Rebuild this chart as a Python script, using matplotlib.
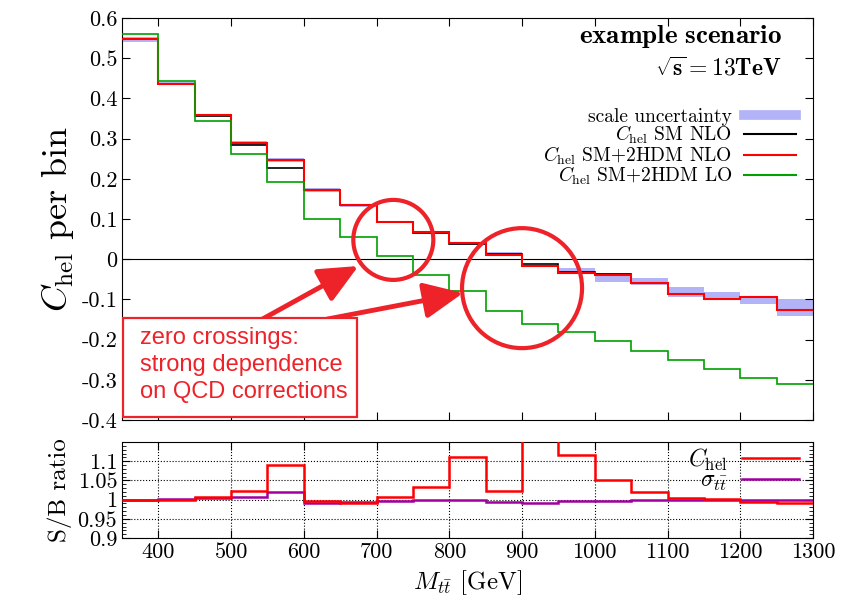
import numpy as np
import matplotlib
matplotlib.use("Agg")
from matplotlib import pyplot as plt
from matplotlib.lines import Line2D
from matplotlib.patches import Ellipse, Rectangle
from matplotlib.ticker import AutoMinorLocator

plt.rcParams['font.family'] = 'serif'
plt.rcParams['font.serif'] = ['cmr10']
plt.rcParams['mathtext.fontset'] = 'cm'
plt.rcParams['axes.formatter.use_mathtext'] = True

# bin edges in M_tt [GeV]
edges = np.arange(350, 1301, 50)

# C_hel per bin
sm_nlo = [0.548, 0.437, 0.355, 0.283, 0.227, 0.171, 0.134, 0.093, 0.066, 0.038,
          0.013, -0.012, -0.033, -0.038, -0.059, -0.087, -0.100, -0.094, -0.127]
bsm_nlo = [0.548, 0.437, 0.359, 0.289, 0.247, 0.171, 0.134, 0.093, 0.068, 0.040,
           0.0115, -0.018, -0.035, -0.039, -0.059, -0.087, -0.100, -0.094, -0.127]
bsm_lo = [0.560, 0.443, 0.344, 0.262, 0.193, 0.100, 0.055, 0.008, -0.039, -0.080,
          -0.129, -0.162, -0.180, -0.204, -0.229, -0.251, -0.273, -0.295, -0.311]
band_lo = [0.541, 0.433, 0.355, 0.284, 0.243, 0.168, 0.131, 0.090, 0.064, 0.035,
           0.010, -0.020, -0.038, -0.057, -0.064, -0.094, -0.100, -0.112, -0.141]
band_hi = [0.552, 0.440, 0.362, 0.294, 0.251, 0.177, 0.137, 0.096, 0.070, 0.042,
           0.017, -0.014, -0.022, -0.034, -0.047, -0.069, -0.082, -0.094, -0.100]

# S/B ratios
ratio_chel = [1.000, 1.000, 1.007, 1.022, 1.089, 0.996, 0.990, 1.006, 1.034, 1.110,
              1.022, 1.300, 1.116, 1.050, 1.019, 1.003, 1.001, 0.995, 0.991]
ratio_sigma = [1.000, 1.002, 1.003, 1.007, 1.019, 0.990, 0.994, 0.997, 0.998, 0.998,
               0.993, 0.990, 0.996, 0.997, 0.998, 0.999, 0.999, 1.000, 1.000]

main_yticks = [-0.4, -0.3, -0.2, -0.1, 0, 0.1, 0.2, 0.3, 0.4, 0.5, 0.6]
ratio_yticks = [0.9, 0.95, 1, 1.05, 1.1]
xticks = [400, 500, 600, 700, 800, 900, 1000, 1100, 1200, 1300]

red = '#ff0000'
ann_red = '#ee2229'
band_col = '#b3b3f8'
green = '#00a000'
purple = '#a000a0'

fig = plt.figure(figsize=(8.45, 6), dpi=100)
ax = fig.add_axes([0.1444, 0.30, 0.8177, 0.67])
ax2 = fig.add_axes([0.1444, 0.1033, 0.8177, 0.16])

# main panel
ax.stairs(band_hi, edges, baseline=band_lo, fill=True, color=band_col, lw=0, zorder=1)
ax.stairs(sm_nlo, edges, baseline=None, color='black', lw=1.2, zorder=2)
ax.stairs(bsm_nlo, edges, baseline=None, color=red, lw=1.5, zorder=3)
ax.stairs(bsm_lo, edges, baseline=None, color=green, lw=1.2, zorder=4)
ax.axhline(0, color='black', lw=0.8, zorder=1.5)

ax.set_xlim(350, 1300)
ax.set_ylim(-0.4, 0.6)
ax.set_xticks(xticks)
ax.set_xticklabels([])
ax.set_yticks(main_yticks)
ax.set_yticklabels([f'{v:g}' for v in main_yticks])
ax.tick_params(direction='in', top=True, right=True, length=6, labelsize=16)
ax.set_ylabel(r'$C_{\rm hel}$ per bin', fontsize=26)

handles = [Line2D([], [], color=band_col, lw=7),
           Line2D([], [], color='black', lw=1.5),
           Line2D([], [], color=red, lw=1.5),
           Line2D([], [], color=green, lw=1.5)]
labels = ['scale uncertainty', r'$C_{\rm hel}$ SM NLO',
          r'$C_{\rm hel}$ SM+2HDM NLO', r'$C_{\rm hel}$ SM+2HDM LO']
ax.legend(handles, labels, loc='upper right', bbox_to_anchor=(0.99, 0.80),
          markerfirst=False, frameon=False, fontsize=14, handlelength=2.7,
          labelspacing=-0.1, handletextpad=0.6, borderpad=0)

ax.text(0.955, 0.955, r'$\mathbf{example\ scenario}$', transform=ax.transAxes,
        ha='right', va='center', fontsize=19.5)
ax.text(0.955, 0.873, r'$\mathbf{\sqrt{s}=13TeV}$', transform=ax.transAxes,
        ha='right', va='center', fontsize=17)

# annotation circles, box and arrows
ax.add_patch(Ellipse((723, 0.048), 110, 0.199, fill=False, ec=ann_red, lw=3, zorder=6))
ax.add_patch(Ellipse((900, -0.072), 165, 0.2985, fill=False, ec=ann_red, lw=3, zorder=6))
ax.add_patch(Rectangle((0.001, 0.0075), 0.339, 0.246, transform=ax.transAxes,
                       fc='white', ec=ann_red, lw=1.6, zorder=7))
ax.text(0.026, 0.232, 'zero crossings:\nstrong dependence\non QCD corrections',
        transform=ax.transAxes, ha='left', va='top', color=ann_red,
        fontsize=17, family='Liberation Sans', linespacing=1.3, zorder=8)
arrow = dict(arrowstyle='-|>,head_length=1.2,head_width=0.55', lw=3.5,
             color=ann_red, shrinkA=0, shrinkB=0, mutation_scale=20)
ax.annotate('', xy=(675, -0.017), xytext=(543, -0.149), arrowprops=arrow, zorder=6)
ax.annotate('', xy=(819, -0.084), xytext=(632, -0.149), arrowprops=arrow, zorder=6)

# ratio panel
ax2.stairs(ratio_sigma, edges, baseline=None, color=purple, lw=1.8, zorder=3)
ax2.stairs(ratio_chel, edges, baseline=None, color=red, lw=1.8, zorder=4)
ax2.set_xlim(350, 1300)
ax2.set_ylim(0.9, 1.15)
ax2.set_xticks(xticks)
ax2.set_xticklabels([f'{v}' for v in xticks])
ax2.set_yticks(ratio_yticks)
ax2.set_yticklabels([f'{v:g}' for v in ratio_yticks])
ax2.yaxis.set_minor_locator(AutoMinorLocator(5))
ax2.tick_params(direction='in', top=True, right=True, length=6, labelsize=16)
ax2.tick_params(which='minor', direction='in', right=True, length=3)
ax2.grid(True, color='black', ls=':', lw=0.8)
ax2.set_ylabel('S/B ratio', fontsize=18)
ax2.set_xlabel(r'$M_{t\bar{t}}$ [GeV]', fontsize=18)
ax2.legend([Line2D([], [], color=red, lw=1.8), Line2D([], [], color=purple, lw=1.8)],
           [r'$C_{\rm hel}$', r'$\sigma_{t\bar{t}}$'], loc='upper right',
           bbox_to_anchor=(1.0, 1.1), markerfirst=False, frameon=False,
           fontsize=17, handlelength=2.4, handletextpad=0.6, labelspacing=-0.1,
           borderpad=0.1)

fig.align_ylabels([ax, ax2])
fig.savefig('out.png', dpi=100)
